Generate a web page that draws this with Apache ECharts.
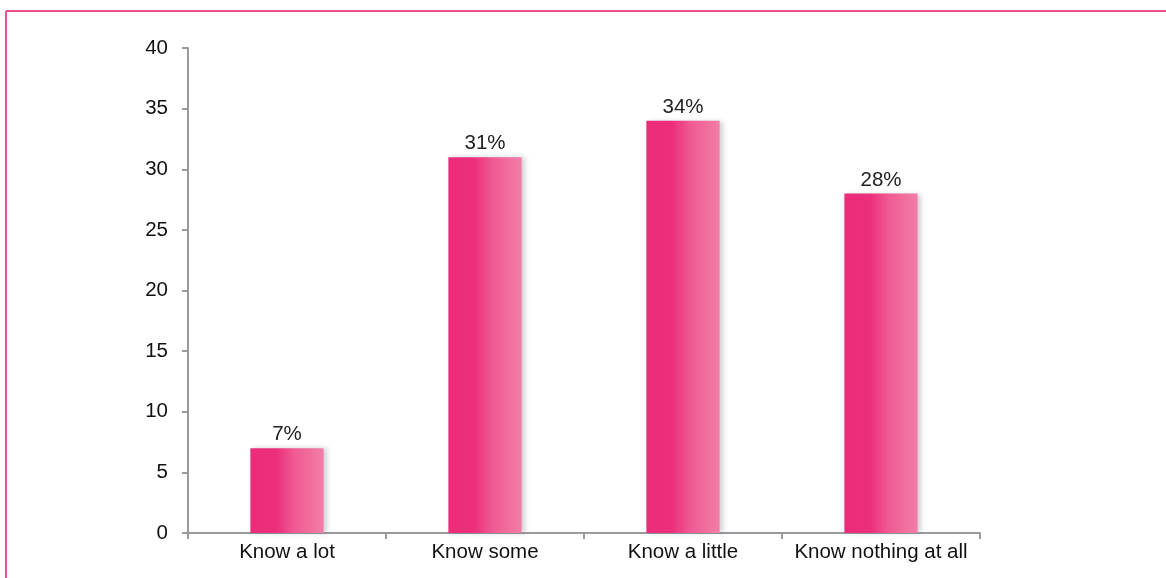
<!DOCTYPE html>
<html>
<head>
<meta charset="utf-8">
<script src="https://cdn.jsdelivr.net/npm/echarts@6/dist/echarts.min.js"></script>
<style>
  html, body { margin: 0; padding: 0; background: #fff; }
  #chart { width: 1166px; height: 578px; }
</style>
</head>
<body>
<div id="chart"></div>
<script>
// Survey answers and their shares (percent)
const categories = ['Know a lot', 'Know some', 'Know a little', 'Know nothing at all'];
const shares = [7, 31, 34, 28];
const yTicks = { min: 0, max: 40, interval: 5 };

const chart = echarts.init(document.getElementById('chart'), null, { renderer: 'canvas' });

const axisGray = '#9a9a9e';
const textFont = 'Liberation Sans, Arial, sans-serif';
const textSize = 20.5;

chart.setOption({
  animation: false,
  backgroundColor: '#fff',
  graphic: [
    // pink frame along the top and left edges
    { type: 'line', shape: { x1: 6, y1: 11, x2: 1166, y2: 11 }, style: { stroke: '#EE4F91', lineWidth: 2 } },
    { type: 'line', shape: { x1: 6, y1: 11, x2: 6, y2: 578 }, style: { stroke: '#EE4F91', lineWidth: 2 } }
  ],
  grid: { left: 188, right: 186, top: 48, bottom: 45, containLabel: false },
  xAxis: {
    type: 'category',
    data: categories,
    axisLine: { lineStyle: { color: axisGray, width: 2 } },
    axisTick: { show: true, interval: 0, length: 6, lineStyle: { color: axisGray, width: 2 } },
    axisLabel: { interval: 0, hideOverlap: false, color: '#111', fontSize: textSize, fontFamily: textFont, margin: 9 },
    splitLine: { show: false }
  },
  yAxis: {
    type: 'value',
    min: yTicks.min,
    max: yTicks.max,
    interval: yTicks.interval,
    axisLine: { show: true, lineStyle: { color: axisGray, width: 2 } },
    axisTick: { show: true, length: 6, lineStyle: { color: axisGray, width: 2 } },
    axisLabel: { color: '#111', fontSize: textSize, fontFamily: textFont, margin: 20 },
    splitLine: { show: false }
  },
  series: [{
    type: 'bar',
    data: shares,
    barWidth: '37%',
    itemStyle: {
      color: new echarts.graphic.LinearGradient(0, 0, 1, 0, [
        { offset: 0, color: '#EC2C79' },
        { offset: 0.35, color: '#EC2E7B' },
        { offset: 0.6, color: '#EF5A92' },
        { offset: 1, color: '#F27EA8' }
      ]),
      shadowColor: 'rgba(60,70,80,0.25)',
      shadowBlur: 5,
      shadowOffsetX: 3,
      shadowOffsetY: 0
    },
    label: {
      show: true,
      position: 'top',
      formatter: '{c}%',
      color: '#222',
      fontSize: textSize,
      fontFamily: textFont,
      distance: 3
    }
  }]
});
</script>
</body>
</html>
